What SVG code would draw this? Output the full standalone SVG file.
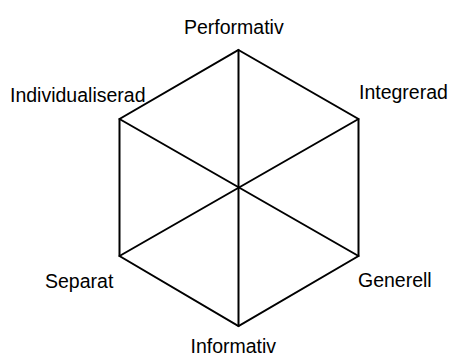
<svg xmlns="http://www.w3.org/2000/svg" width="451" height="358" viewBox="0 0 451 358">
<style>
.e{stroke:#000;stroke-width:2;fill:none;stroke-linecap:round;stroke-linejoin:miter}
text{font-family:"Liberation Sans",Arial,sans-serif;font-size:19.5px;fill:#000}
</style>
<rect width="451" height="358" fill="#fff"/>
<g id="connectors">
<polygon class="e" points="238.5,50 358.5,119 358.5,256 238.5,326 119.5,256 119.5,119"/>
<line class="e" x1="238.5" y1="50" x2="238.5" y2="326"/>
<line class="e" x1="119.5" y1="119" x2="358.5" y2="256"/>
<line class="e" x1="358.5" y1="119" x2="119.5" y2="256"/>
</g>
<g id="performativ"><text x="184" y="34">Performativ</text></g>
<g id="integrerad"><text x="359" y="99">Integrerad</text></g>
<g id="generell"><text x="358" y="287">Generell</text></g>
<g id="informativ"><text x="190.5" y="353">Informativ</text></g>
<g id="separat"><text x="45" y="288">Separat</text></g>
<g id="individualiserad"><text x="10" y="102">Individualiserad</text></g>
</svg>
